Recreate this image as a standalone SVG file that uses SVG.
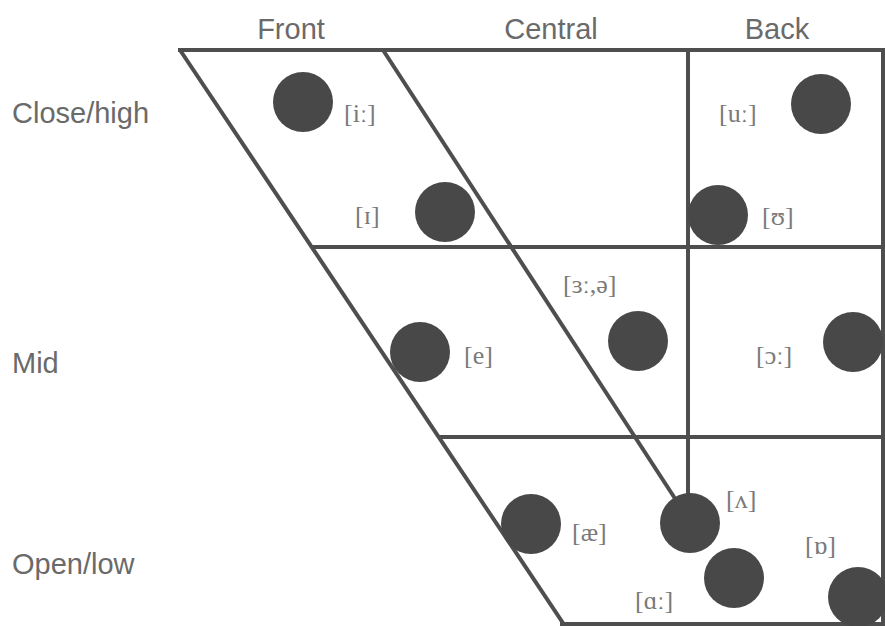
<svg xmlns="http://www.w3.org/2000/svg" width="885" height="626" viewBox="0 0 885 626">
  <style>
    .grid { stroke: #4e4e4e; stroke-width: 4; fill: none; stroke-linecap: butt; }
    .dot { fill: #484848; }
    .axis { font-family: "Liberation Sans", Arial, sans-serif; font-size: 29px; fill: #6a6a6a; }
    .ipa { font-family: "Liberation Serif", "DejaVu Serif", serif; font-size: 26px; fill: #7a7a7a; }
  </style>
  <rect width="885" height="626" fill="#fff"/>

  <!-- axis labels -->
  <g id="axes">
    <text class="axis" x="291" y="39" text-anchor="middle">Front</text>
    <text class="axis" x="551" y="39" text-anchor="middle">Central</text>
    <text class="axis" x="777" y="39" text-anchor="middle">Back</text>
    <text class="axis" x="12" y="123">Close/high</text>
    <text class="axis" x="12" y="373">Mid</text>
    <text class="axis" x="12" y="574">Open/low</text>
  </g>

  <!-- vowel space grid -->
  <g id="grid" class="grid">
    <line x1="178" y1="50" x2="885" y2="50"/>
    <line x1="180" y1="50" x2="565" y2="626"/>
    <line x1="383" y1="50" x2="676" y2="500"/>
    <line x1="688" y1="50" x2="688" y2="500"/>
    <line x1="313" y1="247" x2="885" y2="247"/>
    <line x1="440" y1="437" x2="885" y2="437"/>
    <line x1="883" y1="50" x2="883" y2="626"/>
    <line x1="560" y1="624" x2="885" y2="624"/>
  </g>

  <!-- vowels -->
  <g id="v-i-long"><circle class="dot" cx="303" cy="102" r="30"/><text class="ipa" x="344" y="122">[iː]</text></g>
  <g id="v-ih"><circle class="dot" cx="445" cy="212" r="30"/><text class="ipa" x="355" y="224">[ɪ]</text></g>
  <g id="v-u-long"><circle class="dot" cx="821" cy="104" r="30"/><text class="ipa" x="719" y="122">[uː]</text></g>
  <g id="v-uh"><circle class="dot" cx="718" cy="215" r="30"/><text class="ipa" x="762" y="225">[ʊ]</text></g>
  <g id="v-schwa"><circle class="dot" cx="638" cy="341" r="30"/><text class="ipa" x="563" y="293">[ɜː,ə]</text></g>
  <g id="v-e"><circle class="dot" cx="420" cy="352" r="30"/><text class="ipa" x="464" y="364">[e]</text></g>
  <g id="v-open-o-long"><circle class="dot" cx="853" cy="342" r="30"/><text class="ipa" x="756" y="364">[ɔː]</text></g>
  <g id="v-ae"><circle class="dot" cx="531" cy="524" r="30"/><text class="ipa" x="572" y="541">[æ]</text></g>
  <g id="v-wedge"><circle class="dot" cx="690" cy="523" r="30"/><text class="ipa" x="726" y="508">[ʌ]</text></g>
  <g id="v-a-long"><circle class="dot" cx="734" cy="578" r="30"/><text class="ipa" x="635" y="609">[ɑː]</text></g>
  <g id="v-turned-a"><circle class="dot" cx="858" cy="597" r="30"/><text class="ipa" x="805" y="554">[ɒ]</text></g>
</svg>
